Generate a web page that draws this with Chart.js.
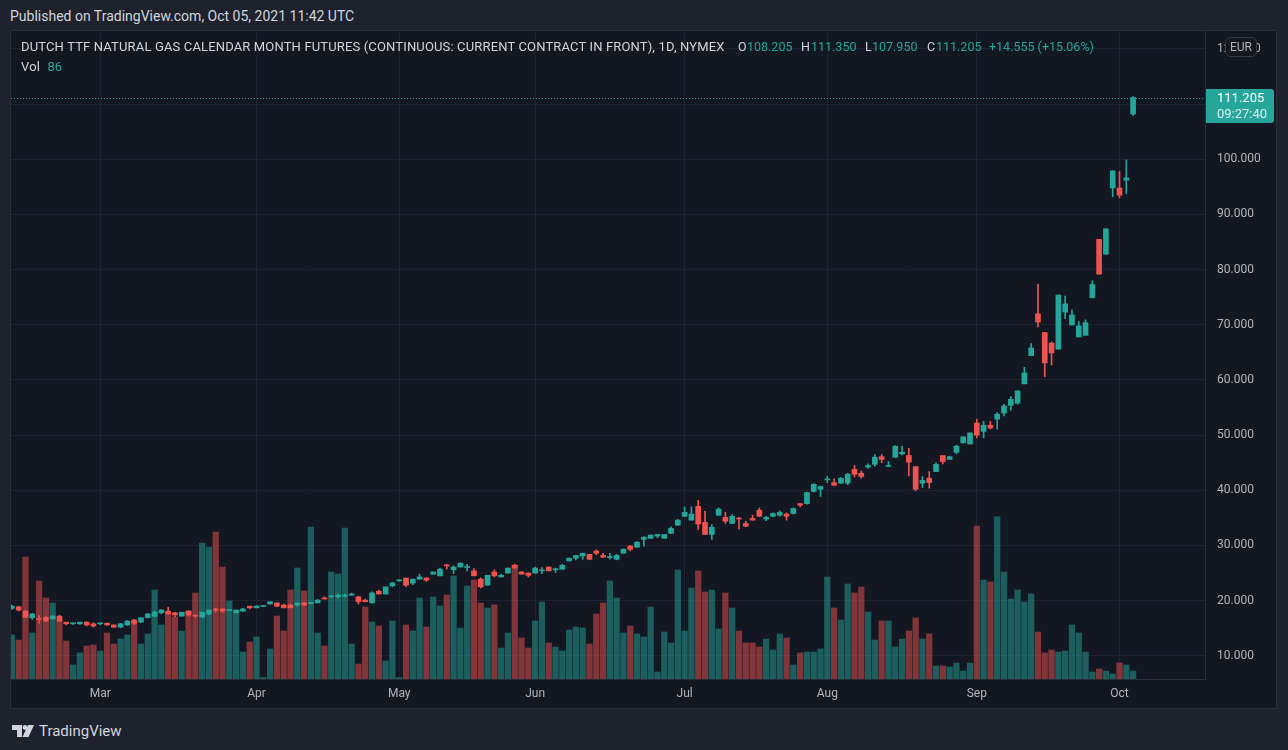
<!DOCTYPE html>
<html>
<head>
<meta charset="utf-8">
<title>Dutch TTF Natural Gas - 1D</title>
<script src="https://cdn.jsdelivr.net/npm/chart.js@4.4.0/dist/chart.umd.min.js"></script>
<style>
    body {
        margin: 0;
        width: 1288px;
        height: 750px;
        background: #1e222d;
        font-family: Roboto, "Liberation Sans", sans-serif;
        color: #d1d4dc;
        overflow: hidden;
        position: relative;
    }
    #published { position: absolute; left: 10px; top: 8px; font-size: 14px; line-height: 16px; }
    #pane {
        position: absolute; left: 10px; top: 30px;
        width: 1265px; height: 677px;
        border: 1px solid #2a2e39;
        background: #131722;
    }
    #pane canvas { position: absolute; left: 0; top: 0; }
    #legend {
        position: absolute; left: 10px; top: 6px; width: 1100px; height: 40px;
        font-size: 13px; letter-spacing: 0.15px; line-height: 20px; white-space: nowrap;
    }
    #legend .up { color: #26a69a; }
    #legend .seg { position: absolute; top: 0; font-size: 12.5px; letter-spacing: 0; }
    #eur {
        position: absolute; left: 1214px; top: 6px;
        width: 32px; height: 20px; box-sizing: border-box;
        border: 1px solid #363a45; border-radius: 6px;
        background: #131722; color: #b2b5be;
        font-size: 12px; line-height: 18px; text-align: center;
    }
    #footer { position: absolute; left: 12px; top: 722px; height: 18px; display: flex; align-items: center; }
    #footer span { font-size: 15px; margin-left: 5px; color: #d1d4dc; }
</style>
</head>
<body>
<div id="published">Published on TradingView.com, Oct 05, 2021 11:42 UTC</div>
<div id="pane">
    <canvas id="chart" width="1265" height="677"></canvas>
    <div id="legend">
        <div>DUTCH TTF NATURAL GAS CALENDAR MONTH FUTURES (CONTINUOUS: CURRENT CONTRACT IN FRONT), 1D, NYMEX</div>
        <span class="seg" style="left:717px">O</span><span class="seg up" style="left:726px">108.205</span>
        <span class="seg" style="left:780px">H</span><span class="seg up" style="left:790px">111.350</span>
        <span class="seg" style="left:844px">L</span><span class="seg up" style="left:851px">107.950</span>
        <span class="seg" style="left:906px">C</span><span class="seg up" style="left:915px">111.205</span>
        <span class="seg up" style="left:968px">+14.555 (+15.06%)</span>
        <div>Vol <span class="up" style="margin-left:4px">86</span></div>
    </div>
    <div id="eur">EUR</div>
</div>
<div id="footer">
    <svg width="22" height="12" viewBox="0 0 22 12">
        <path d="M0 0 H10 V12 H5 V5 H0 Z" fill="#d1d4dc"/>
        <circle cx="13" cy="2.5" r="2.4" fill="#d1d4dc"/>
        <path d="M16 0 H22 L16.5 12 H10.5 Z" fill="#d1d4dc"/>
    </svg>
    <span>TradingView</span>
</div>
<script>
// trading calendar (weekdays minus exchange holidays)
const firstDay = '2021-02-09';
const lastDay = '2021-10-05';
const holidays = ['2021-02-15', '2021-04-02', '2021-05-31', '2021-07-05', '2021-09-06'];

const monthLabels = ['Mar', 'Apr', 'May', 'Jun', 'Jul', 'Aug', 'Sep', 'Oct'];
const priceTicks = [10, 20, 30, 40, 50, 60, 70, 80, 90, 100, 110, 120];

// daily OHLC (EUR/MWh) and volume
const opens = [
    18.6, 18.9, 18.1, 16.9, 16.7, 17.0, 16.7, 17.2, 16.1, 15.8,
    15.8, 16.1, 15.8, 15.8, 15.9, 15.6, 15.2, 15.6, 16.5, 16.1,
    16.9, 17.2, 17.8, 18.1, 17.8, 17.2, 18.1, 17.3, 17.0, 17.6,
    18.4, 18.5, 18.2, 17.8, 18.1, 19.0, 18.7, 18.95, 19.4, 19.6,
    19.2, 19.2, 19.2, 19.6, 19.5, 19.6, 20.5, 20.7, 20.7, 20.8,
    21.0, 20.7, 20.1, 19.6, 21.7, 21.2, 22.7, 23.6, 24.1, 23.2,
    23.9, 24.1, 24.8, 24.5, 26.4, 25.6, 26.1, 26.0, 25.4, 23.9,
    22.8, 25.2, 24.3, 25.0, 26.4, 25.2, 25.0, 25.0, 25.4, 26.1,
    25.6, 25.7, 27.2, 27.7, 28.1, 28.4, 29.0, 28.2, 27.8, 27.5,
    28.6, 29.9, 29.7, 31.1, 31.3, 31.7, 31.3, 32.2, 33.7, 35.3,
    34.6, 37.1, 34.2, 32.0, 35.5, 35.1, 34.0, 34.9, 34.0, 34.9,
    36.4, 34.8, 35.3, 35.5, 35.7, 35.8, 37.6, 37.6, 39.8, 40.2,
    41.9, 41.4, 41.3, 41.3, 43.8, 43.1, 44.2, 44.7, 46.1, 44.3,
    46.0, 46.6, 46.3, 44.3, 41.3, 42.2, 43.4, 46.3, 45.6, 46.9,
    48.6, 48.4, 52.2, 50.7, 51.8, 52.9, 54.0, 55.4, 55.8, 59.3,
    64.4, 72.0, 68.6, 66.7, 65.6, 72.3, 70.0, 67.8, 68.1, 74.9,
    85.5, 82.8, 94.8, 94.8, 96.2, 108.205
];
const highs = [
    19.2, 19.0, 18.2, 17.7, 17.3, 17.2, 17.3, 17.4, 16.1, 16.0,
    16.1, 16.2, 16.0, 15.9, 16.0, 15.6, 15.9, 16.4, 16.6, 16.9,
    17.6, 18.1, 18.4, 18.8, 17.9, 17.9, 18.2, 17.4, 17.9, 18.3,
    18.6, 18.5, 18.3, 18.3, 18.6, 19.0, 19.1, 19.1, 19.8, 19.6,
    19.4, 19.3, 19.6, 19.7, 19.7, 20.2, 20.7, 20.9, 21.2, 21.2,
    21.4, 20.8, 20.3, 21.6, 21.9, 22.5, 23.3, 23.8, 24.1, 23.9,
    24.8, 24.2, 25.2, 25.9, 26.6, 26.3, 26.8, 26.6, 25.8, 24.1,
    24.6, 25.6, 24.8, 25.9, 26.6, 25.3, 25.1, 26.1, 26.0, 26.1,
    25.9, 26.6, 27.7, 28.2, 28.6, 28.4, 29.2, 28.6, 28.6, 28.4,
    29.4, 30.0, 30.7, 31.6, 31.9, 32.0, 32.0, 33.4, 34.7, 37.0,
    37.0, 38.2, 36.2, 33.8, 36.8, 36.0, 35.6, 35.1, 34.4, 35.5,
    36.8, 35.3, 35.9, 36.3, 35.9, 36.8, 37.6, 39.7, 41.2, 40.7,
    42.5, 42.1, 42.3, 43.1, 44.5, 43.5, 44.8, 46.5, 46.5, 45.2,
    48.1, 48.0, 47.6, 44.3, 42.5, 43.4, 45.0, 46.3, 46.2, 48.2,
    49.7, 50.4, 52.9, 52.5, 52.5, 54.1, 55.6, 57.0, 58.1, 62.3,
    66.6, 77.4, 68.6, 66.9, 75.4, 75.2, 72.7, 70.6, 70.9, 78.0,
    85.5, 87.4, 97.9, 97.8, 99.9, 111.35
];
const lows = [
    18.4, 18.1, 16.9, 16.6, 15.9, 16.2, 16.6, 16.2, 15.6, 15.7,
    15.7, 15.4, 15.2, 15.6, 15.5, 15.2, 15.1, 15.5, 15.7, 16.0,
    16.9, 17.1, 17.6, 17.5, 17.1, 17.2, 17.2, 17.0, 17.0, 17.4,
    17.9, 17.9, 18.2, 17.8, 18.1, 18.5, 18.7, 18.9, 19.4, 18.9,
    18.7, 18.7, 19.0, 19.2, 19.4, 19.6, 20.3, 20.6, 20.5, 20.7,
    21.0, 19.4, 19.8, 19.6, 21.2, 21.2, 22.5, 23.5, 22.6, 22.9,
    23.9, 23.5, 24.8, 24.5, 25.7, 24.9, 26.1, 25.4, 24.5, 22.3,
    22.8, 24.3, 24.3, 25.0, 25.9, 24.8, 24.3, 25.0, 24.9, 25.4,
    25.1, 25.7, 27.2, 27.4, 27.5, 27.4, 28.3, 27.8, 27.5, 27.4,
    28.6, 29.0, 29.7, 29.9, 31.3, 31.4, 31.3, 32.2, 33.6, 35.2,
    34.6, 32.9, 32.0, 31.1, 35.4, 34.0, 34.0, 33.0, 33.4, 34.6,
    35.3, 34.5, 35.2, 35.3, 34.6, 35.7, 37.0, 37.5, 39.7, 38.9,
    41.4, 40.9, 41.3, 41.0, 42.4, 42.2, 44.0, 44.4, 45.0, 44.3,
    46.0, 46.4, 42.6, 39.9, 40.5, 40.4, 43.4, 44.8, 45.6, 46.6,
    48.6, 48.4, 49.5, 49.5, 51.1, 51.1, 53.5, 54.5, 55.6, 59.3,
    64.4, 69.6, 60.6, 62.7, 65.6, 71.1, 69.9, 67.8, 68.1, 74.9,
    79.2, 82.8, 93.2, 93.0, 93.8, 107.95
];
const closes = [
    19.0, 18.3, 17.0, 17.6, 16.6, 16.3, 17.2, 16.3, 15.8, 15.9,
    16.1, 15.6, 15.4, 15.9, 15.6, 15.2, 15.8, 16.3, 15.9, 16.9,
    17.6, 17.9, 18.3, 17.6, 17.4, 17.9, 17.4, 17.2, 17.9, 18.3,
    18.3, 18.1, 18.3, 18.3, 18.5, 18.7, 19.0, 19.05, 19.8, 19.0,
    18.7, 18.7, 19.6, 19.2, 19.6, 20.1, 20.3, 20.8, 21.0, 21.0,
    21.2, 19.8, 19.8, 21.4, 21.2, 22.5, 23.2, 23.7, 22.8, 23.9,
    24.3, 23.7, 25.2, 25.7, 26.3, 26.1, 26.8, 26.1, 24.5, 22.5,
    24.6, 24.5, 24.6, 25.9, 25.9, 24.8, 24.6, 25.9, 25.5, 25.4,
    25.7, 26.4, 27.7, 28.2, 28.6, 27.5, 28.6, 27.9, 27.9, 28.2,
    29.3, 29.3, 30.6, 31.5, 31.9, 32.0, 32.0, 33.1, 34.6, 36.0,
    35.7, 33.9, 32.0, 33.3, 36.6, 34.4, 35.3, 34.8, 33.5, 34.6,
    35.3, 35.1, 35.8, 36.0, 35.3, 36.7, 37.3, 39.6, 41.1, 40.7,
    42.0, 40.9, 42.2, 42.9, 42.9, 42.5, 44.5, 46.0, 45.6, 44.5,
    48.0, 46.9, 45.1, 40.2, 41.8, 41.4, 44.7, 45.2, 46.1, 48.0,
    49.7, 50.4, 50.0, 51.8, 51.3, 53.8, 55.3, 56.5, 58.0, 61.3,
    65.8, 70.5, 63.1, 64.9, 75.4, 73.8, 71.8, 69.8, 70.4, 77.3,
    79.2, 87.4, 97.9, 93.5, 96.65, 111.205
];
const volumes = [
    473, 419, 1312, 495, 1054, 871, 817, 634, 409, 151,
    280, 355, 366, 301, 495, 376, 430, 473, 613, 376,
    484, 957, 581, 710, 667, 516, 731, 925, 1462, 1419,
    1580, 1204, 839, 710, 290, 398, 452, 15, 323, 677,
    516, 957, 1193, 946, 1634, 495, 355, 1150, 1129, 1623,
    376, 161, 774, 613, 570, 194, 624, 15, 581, 516,
    871, 559, 882, 785, 903, 1107, 548, 1000, 1064, 817,
    763, 796, 333, 495, 1226, 441, 333, 624, 828, 387,
    344, 301, 527, 559, 548, 376, 699, 817, 1054, 871,
    495, 570, 484, 452, 774, 75, 505, 387, 1172, 516,
    978, 1161, 935, 957, 538, 925, 763, 516, 387, 387,
    344, 430, 312, 484, 441, 151, 280, 290, 290, 323,
    1097, 763, 634, 1021, 925, 989, 720, 419, 624, 624,
    344, 430, 516, 656, 430, 484, 140, 140, 129, 172,
    86, 172, 1645, 1064, 1043, 1742, 1150, 860, 957, 828,
    914, 505, 280, 312, 290, 301, 581, 495, 290, 75,
    108, 86, 54, 172, 151, 86
];

const UP = '#26a69a';
const DOWN = '#ef5350';
const UP_VOL = 'rgba(38, 166, 154, 0.5)';
const DOWN_VOL = 'rgba(239, 83, 80, 0.5)';
const GRID = '#1f2330';
const BORDER = '#2a2e39';
const AXIS_TEXT = '#b2b5be';
const FONT = 'Roboto, "Liberation Sans", sans-serif';

// build the list of trading days, then find where each month starts
const dates = [];
for (let d = new Date(firstDay + 'T00:00:00Z'); d <= new Date(lastDay + 'T00:00:00Z'); d.setUTCDate(d.getUTCDate() + 1)) {
    const iso = d.toISOString().slice(0, 10);
    const wd = d.getUTCDay();
    if (wd === 0 || wd === 6 || holidays.includes(iso)) continue;
    dates.push(iso);
}
const monthStarts = [];
dates.forEach((iso, i) => {
    if (i > 0 && iso.slice(5, 7) !== dates[i - 1].slice(5, 7)) monthStarts.push(i);
});

const candleColors = closes.map((c, i) => c >= opens[i] ? UP : DOWN);
const volumeColors = closes.map((c, i) => c >= opens[i] ? UP_VOL : DOWN_VOL);

// last price line + badge on the price scale
const lastPricePlugin = {
    id: 'lastPrice',
    afterDraw(chart) {
        const { ctx, chartArea, scales } = chart;
        const last = closes[closes.length - 1];
        const py = Math.round(scales.y.getPixelForValue(last)) + 0.5;
        ctx.save();
        ctx.strokeStyle = UP;
        ctx.lineWidth = 1;
        ctx.setLineDash([1, 2]);
        ctx.beginPath();
        ctx.moveTo(chartArea.left, py);
        ctx.lineTo(chartArea.right, py);
        ctx.stroke();
        ctx.setLineDash([]);
        ctx.fillStyle = UP;
        ctx.beginPath();
        ctx.roundRect(chartArea.right + 1, py - 9.5, 68, 34, [0, 3, 3, 0]);
        ctx.fill();
        ctx.fillStyle = '#ffffff';
        ctx.font = '13px ' + FONT;
        ctx.textBaseline = 'middle';
        ctx.textAlign = 'left';
        ctx.fillText(last.toFixed(3), chartArea.right + 12, py + 0.5);
        ctx.fillStyle = 'rgba(255, 255, 255, 0.85)';
        ctx.fillText('09:27:40', chartArea.right + 12, py + 16.5);
        ctx.restore();
    }
};

const ctx = document.getElementById('chart').getContext('2d');
const chart = new Chart(ctx, {
    type: 'bar',
    data: {
        datasets: [
            {
                label: 'Body',
                data: opens.map((o, i) => ({ x: i, y: [o, closes[i]] })),
                backgroundColor: candleColors,
                barThickness: 5,
                minBarLength: 1,
                grouped: false,
                clip: 0,
                yAxisID: 'y',
                order: 1
            },
            {
                label: 'Wick',
                data: lows.map((l, i) => ({ x: i, y: [l, highs[i]] })),
                backgroundColor: candleColors,
                barThickness: 1,
                grouped: false,
                clip: 0,
                yAxisID: 'y',
                order: 2
            },
            {
                label: 'Volume',
                data: volumes.map((v, i) => ({ x: i, y: v })),
                backgroundColor: volumeColors,
                barThickness: 5.6,
                grouped: false,
                clip: 0,
                yAxisID: 'yv',
                order: 3
            }
        ]
    },
    options: {
        responsive: false,
        animation: false,
        layout: { padding: 0, autoPadding: false },
        plugins: {
            legend: { display: false },
            tooltip: { enabled: false }
        },
        scales: {
            x: {
                type: 'linear',
                offset: false,
                min: -0.13,
                max: 175.58,
                afterBuildTicks: s => { s.ticks = monthStarts.map(v => ({ value: v })); },
                afterFit: s => { s.height = 29; s.paddingLeft = 0; s.paddingRight = 0; },
                ticks: {
                    color: AXIS_TEXT,
                    font: { family: FONT, size: 12 },
                    padding: 8,
                    maxRotation: 0,
                    autoSkip: false,
                    callback: (v, i) => monthLabels[i]
                },
                grid: { color: GRID, drawTicks: false, offset: false },
                border: { color: BORDER }
            },
            y: {
                position: 'right',
                min: 5.8,
                max: 123.26,
                afterBuildTicks: s => { s.ticks = priceTicks.map(v => ({ value: v })); },
                // fixed price-scale width, and no label padding above/below the plot
                afterFit: s => { s.width = 71; s.paddingTop = 0; s.paddingBottom = 0; },
                ticks: {
                    color: AXIS_TEXT,
                    font: { family: FONT, size: 12 },
                    padding: 12,
                    callback: v => v.toFixed(3)
                },
                grid: { color: GRID, drawTicks: false },
                border: { color: BORDER }
            },
            yv: {
                display: false,
                min: 0,
                max: 6966
            }
        }
    },
    plugins: [lastPricePlugin]
});
</script>
</body>
</html>
